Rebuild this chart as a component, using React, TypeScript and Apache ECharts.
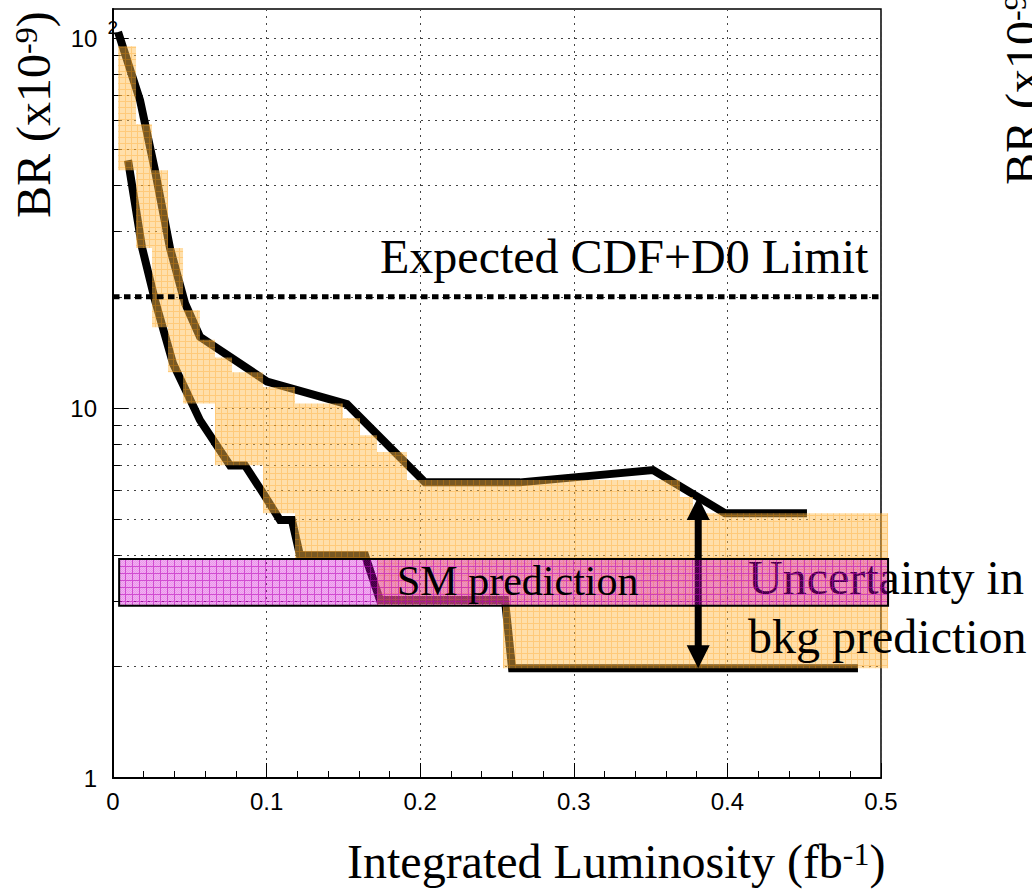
import React, { useEffect, useRef } from 'react';
import * as echarts from 'echarts';

// Expected limit vs. integrated luminosity, upper curve (fb^-1, BR x1e-9)
const upperLumi = [0.0033, 0.0176, 0.0273, 0.0371, 0.0469, 0.0566, 0.1003, 0.1523, 0.2031, 0.265, 0.3516, 0.3984, 0.4518];
const upperBR = [104, 68, 44, 27.1, 19.2, 15.6, 11.8, 10.25, 6.3, 6.3, 6.8, 5.2, 5.2];

// Expected limit, lower curve
const lowerLumi = [0.0098, 0.0189, 0.0273, 0.0391, 0.0566, 0.0762, 0.0859, 0.0977, 0.1087, 0.1165, 0.1217, 0.1641, 0.1738, 0.2552, 0.2598, 0.485];
const lowerBR = [46.8, 27.2, 19.6, 13.2, 9.28, 7.0, 7.0, 5.89, 4.98, 4.98, 4.0, 4.0, 3.03, 3.03, 1.98, 1.98];

// Background-uncertainty band outline (upper edge left->right, then lower edge right->left)
const bandLumi = [
  0.0033, 0.015, 0.015, 0.0254, 0.0254, 0.0358, 0.0358, 0.0456, 0.0456, 0.0566, 0.0566, 0.0664, 0.0664, 0.0775, 0.0775,
  0.0977, 0.0977, 0.1185, 0.1185, 0.1497, 0.1497, 0.1608, 0.1608, 0.1719, 0.1719, 0.1914, 0.1914, 0.3691, 0.3691,
  0.3776, 0.3776, 0.5046,
  0.5046, 0.2539, 0.2539, 0.1719, 0.1719, 0.1185, 0.1185, 0.0977, 0.0977, 0.0664, 0.0664, 0.0456, 0.0456, 0.0358,
  0.0358, 0.0254, 0.0254, 0.015, 0.015, 0.0033,
];
const bandBR = [
  95.1, 95.1, 58.6, 58.6, 44.0, 44.0, 27.1, 27.1, 18.4, 18.4, 15.3, 15.3, 13.7, 13.7, 12.5,
  12.5, 11.4, 11.4, 10.3, 10.3, 9.4, 9.4, 8.45, 8.45, 7.61, 7.61, 6.39, 6.39, 5.75,
  5.75, 5.2, 5.2,
  1.98, 1.98, 2.92, 2.92, 3.93, 3.93, 5.2, 5.2, 7.01, 7.01, 10.3, 10.3, 12.5, 12.5,
  16.55, 16.55, 27.1, 27.1, 44.0, 44.0,
];

// Standard Model prediction band
const smLumi = [0.004, 0.5046];
const smBR = [2.92, 3.91];

// Expected CDF+D0 combined limit
const expectedLimit = 20;
const limitLumi = [0, 0.5];

// Double arrow marking the background uncertainty
const arrowLumi = 0.381;
const arrowBR = [1.98, 5.75];

// Log-axis decorations
const gridValues = [2, 3, 4, 5, 6, 7, 8, 9, 10, 20, 30, 40, 50, 60, 70, 80, 90, 100];
const minorTickValues = [2, 3, 4, 5, 6, 7, 8, 9, 20, 30, 40, 50, 60, 70, 80, 90];
const majorTickValues = [1, 10, 100];
const minorTickLen = 0.0046;
const majorTickLen = 0.0098;

const SERIF = '"Liberation Serif", "Times New Roman", serif';
const SANS = '"Liberation Sans", Arial, sans-serif';

function gridPattern(size: number, base: string, alt: string | null, line: string) {
  const c = document.createElement('canvas');
  c.width = size;
  c.height = size;
  const ctx = c.getContext('2d') as CanvasRenderingContext2D;
  for (let i = 0; i < size; i++) {
    for (let j = 0; j < size; j++) {
      let col = base;
      if (i === size - 1 || j === size - 1) col = line;
      else if (alt && (i + j) % 2 === 1) col = alt;
      ctx.fillStyle = col;
      ctx.fillRect(i, j, 1, 1);
    }
  }
  return c;
}

export default function App() {
  const ref = useRef<HTMLDivElement>(null);

  useEffect(() => {
    if (!ref.current) return;
    const chart = echarts.init(ref.current, null, { renderer: 'svg' });

    const bandFill = { image: gridPattern(6, 'rgba(255,188,75,0.47)', null, 'rgba(255,170,40,0.62)'), repeat: 'repeat' };
    const smFill = {
      image: gridPattern(7, 'rgba(210,0,210,0.42)', 'rgba(210,0,210,0.3)', 'rgba(190,0,190,0.7)'),
      repeat: 'repeat',
    };

    const yLabel = (v: number) => {
      const lg = Math.log10(v);
      const e = Math.round(lg);
      if (Math.abs(lg - e) > 1e-6) return '';
      if (e === 0) return '{n|1}{p| }';
      if (e === 1) return '{n|10}{p| }';
      if (e === 2) return '{n|10}{g| }{s|2}';
      return '';
    };

    const option: any = {
      animation: false,
      backgroundColor: '#fff',
      grid: { left: 113, top: 9, width: 768, height: 769, show: true, borderColor: '#000', borderWidth: 1.5 },
      xAxis: {
        type: 'value',
        min: 0,
        max: 0.5,
        interval: 0.1,
        axisLine: { show: true, lineStyle: { color: '#000', width: 2 } },
        axisTick: { show: true, inside: true, length: 15, lineStyle: { color: '#000', width: 1 } },
        minorTick: { show: true, splitNumber: 5, length: 7, lineStyle: { color: '#000', width: 1 } },
        splitLine: { show: true, lineStyle: { color: '#444', width: 1, type: [2, 5] } },
        axisLabel: { color: '#000', fontFamily: SANS, fontSize: 24, margin: 11 },
      },
      yAxis: {
        type: 'log',
        logBase: 10,
        min: 1,
        max: 120,
        axisLine: { show: true, lineStyle: { color: '#000', width: 2 } },
        axisTick: { show: false },
        splitLine: { show: false },
        axisLabel: {
          margin: -5,
          formatter: yLabel,
          rich: {
            n: { fontFamily: SANS, fontSize: 24, color: '#000', lineHeight: 40 },
            p: { width: 21, fontSize: 24, lineHeight: 40 },
            g: { width: 10, fontSize: 24, lineHeight: 40 },
            s: { fontFamily: SANS, fontSize: 19, color: '#000', lineHeight: 19, verticalAlign: 'top' },
          },
        },
      },
      graphic: [
        {
          type: 'text', x: 380, y: 256.8, z: 4, silent: true,
          style: { text: 'Expected CDF+D0 Limit', fontFamily: SERIF, fontSize: 48, fill: '#000', align: 'left', verticalAlign: 'middle' },
        },
        {
          type: 'text', x: 748, y: 577.8, z: 4, silent: true,
          style: { text: 'Uncertainty in', fontFamily: SERIF, fontSize: 48, fill: '#000', align: 'left', verticalAlign: 'middle' },
        },
        {
          type: 'text', x: 748, y: 636.8, z: 4, silent: true,
          style: { text: 'bkg prediction', fontFamily: SERIF, fontSize: 48, fill: '#000', align: 'left', verticalAlign: 'middle' },
        },
        {
          type: 'text', x: 397, y: 580.8, z: 8, silent: true,
          style: { text: 'SM prediction', fontFamily: SERIF, fontSize: 42, fill: '#000', align: 'left', verticalAlign: 'middle' },
        },
        {
          type: 'text', x: 347, y: 861.8, z: 4, silent: true,
          style: {
            text: '{a|Integrated Luminosity (fb}{b|-1}{a|)}',
            align: 'left', verticalAlign: 'middle',
            rich: {
              a: { fontFamily: SERIF, fontSize: 48, lineHeight: 48, fill: '#000' },
              b: { fontFamily: SERIF, fontSize: 32, lineHeight: 40, fill: '#000', verticalAlign: 'top' },
            },
          },
        },
        {
          type: 'text', x: 33.8, y: 218, rotation: Math.PI / 2, z: 4, silent: true,
          style: {
            text: '{a|BR (x10}{b|-9}{a|)}',
            align: 'left', verticalAlign: 'middle',
            rich: {
              a: { fontFamily: SERIF, fontSize: 48, lineHeight: 48, fill: '#000' },
              b: { fontFamily: SERIF, fontSize: 32, lineHeight: 40, fill: '#000', verticalAlign: 'top' },
            },
          },
        },
        {
          type: 'text', x: 1022.8, y: 185, rotation: Math.PI / 2, z: 4, silent: true,
          style: {
            text: '{a|BR (x10}{b|-9}{a|)}',
            align: 'left', verticalAlign: 'middle',
            rich: {
              a: { fontFamily: SERIF, fontSize: 48, lineHeight: 48, fill: '#000' },
              b: { fontFamily: SERIF, fontSize: 32, lineHeight: 40, fill: '#000', verticalAlign: 'top' },
            },
          },
        },
      ],
      series: [
        {
          name: 'gridlines',
          type: 'line',
          data: [[0, 1]],
          symbol: 'none',
          lineStyle: { width: 0 },
          silent: true,
          markLine: {
            z: 1,
            silent: true,
            symbol: 'none',
            label: { show: false },
            lineStyle: { color: '#444', width: 1, type: [2, 5] },
            emphasis: { disabled: true },
            data: gridValues.map((v) => ({ yAxis: v })),
          },
        },
        {
          name: 'yticks',
          type: 'line',
          data: [[0, 1]],
          symbol: 'none',
          lineStyle: { width: 0 },
          silent: true,
          markLine: {
            z: 1,
            silent: true,
            symbol: 'none',
            label: { show: false },
            lineStyle: { color: '#000', width: 1, type: 'solid' },
            emphasis: { disabled: true },
            data: [
              ...minorTickValues.map((v) => [{ coord: [0, v] }, { coord: [minorTickLen, v] }]),
              ...majorTickValues.map((v) => [{ coord: [0, v] }, { coord: [majorTickLen, v] }]),
            ],
          },
        },
        {
          name: 'upper',
          type: 'line',
          z: 2,
          silent: true,
          symbol: 'none',
          data: upperLumi.map((x, i) => [x, upperBR[i]]),
          lineStyle: { color: '#000', width: 8, join: 'miter' },
        },
        {
          name: 'lower',
          type: 'line',
          z: 2,
          silent: true,
          symbol: 'none',
          data: lowerLumi.map((x, i) => [x, lowerBR[i]]),
          lineStyle: { color: '#000', width: 8, join: 'miter' },
        },
        {
          name: 'band',
          type: 'custom',
          coordinateSystem: 'cartesian2d',
          clip: false,
          silent: true,
          z: 3,
          data: [[0, 1]],
          renderItem: (_p: any, api: any) => ({
            type: 'polygon',
            shape: { points: bandLumi.map((x, i) => api.coord([x, bandBR[i]])) },
            style: { fill: bandFill },
          }),
        },
        {
          name: 'expected',
          type: 'line',
          z: 4,
          silent: true,
          symbol: 'none',
          data: limitLumi.map((x) => [x, expectedLimit]),
          lineStyle: { color: '#000', width: 5, type: [6.5, 4.5] },
        },
        {
          name: 'arrow',
          type: 'custom',
          coordinateSystem: 'cartesian2d',
          clip: false,
          silent: true,
          z: 4,
          data: [[arrowLumi, arrowBR[0]]],
          renderItem: (_p: any, api: any) => {
            const top = api.coord([arrowLumi, arrowBR[1]]);
            const bot = api.coord([arrowLumi, arrowBR[0]]);
            const hw = 11.5;
            const hl = 23;
            return {
              type: 'group',
              children: [
                {
                  type: 'line',
                  shape: { x1: top[0], y1: top[1] + hl - 2, x2: bot[0], y2: bot[1] - hl + 2 },
                  style: { stroke: '#000', lineWidth: 7 },
                },
                {
                  type: 'polygon',
                  shape: { points: [[top[0], top[1]], [top[0] - hw, top[1] + hl], [top[0] + hw, top[1] + hl]] },
                  style: { fill: '#000' },
                },
                {
                  type: 'polygon',
                  shape: { points: [[bot[0], bot[1]], [bot[0] - hw, bot[1] - hl], [bot[0] + hw, bot[1] - hl]] },
                  style: { fill: '#000' },
                },
              ],
            };
          },
        },
        {
          name: 'SM prediction',
          type: 'custom',
          coordinateSystem: 'cartesian2d',
          clip: false,
          silent: true,
          z: 5,
          data: [[smLumi[0], smBR[0]]],
          renderItem: (_p: any, api: any) => {
            const a = api.coord([smLumi[0], smBR[1]]);
            const b = api.coord([smLumi[1], smBR[0]]);
            return {
              type: 'rect',
              shape: { x: a[0], y: a[1], width: b[0] - a[0], height: b[1] - a[1] },
              style: { fill: smFill, stroke: '#000', lineWidth: 2 },
            };
          },
        },
      ],
    };

    chart.setOption(option);
    return () => chart.dispose();
  }, []);

  return (
    <div
      ref={ref}
      style={{ position: 'fixed', left: 0, top: 0, width: 1032, height: 891, background: '#fff' }}
    />
  );
}
